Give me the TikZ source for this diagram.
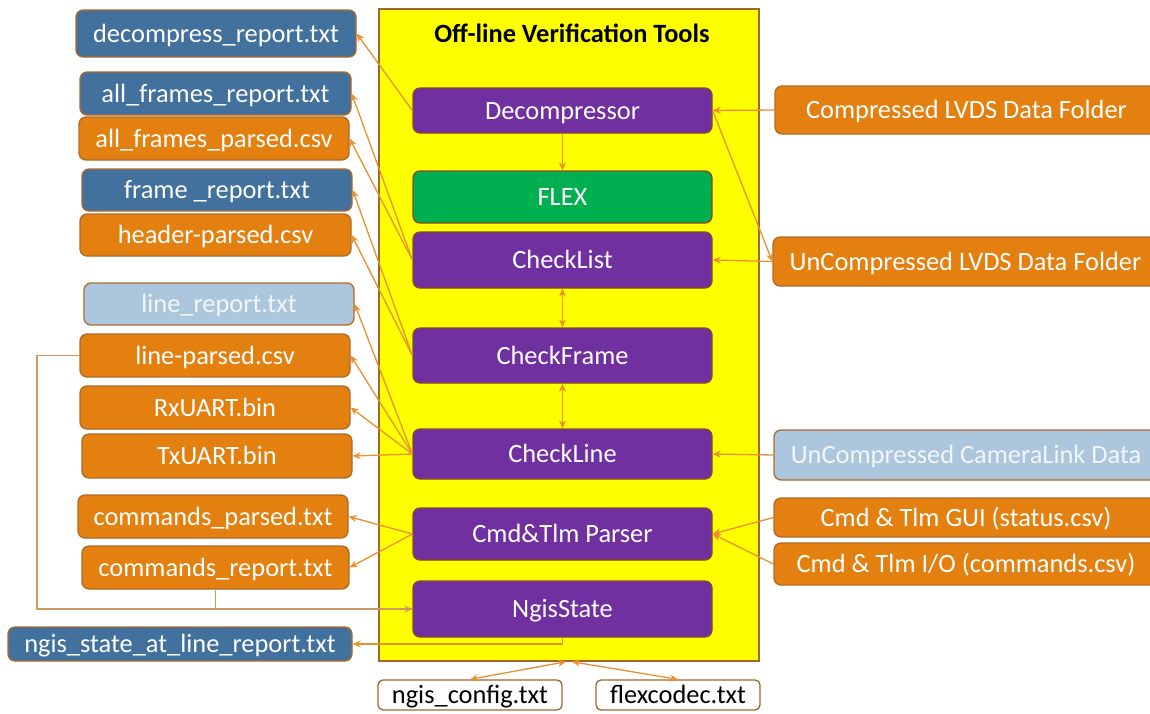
\documentclass[tikz,border=0pt]{standalone}
\usepackage{fontspec}
\setmainfont{Carlito}
\usetikzlibrary{arrows.meta}
\definecolor{orangef}{HTML}{E3800F}
\definecolor{bluef}{HTML}{41719C}
\definecolor{lightf}{HTML}{ABC6DD}
\definecolor{purplef}{HTML}{7030A0}
\definecolor{greenf}{HTML}{00B050}
\definecolor{bordc}{HTML}{B06A28}
\definecolor{pbordc}{HTML}{8A4A2A}
\definecolor{framec}{HTML}{A0662E}
\definecolor{arrc}{HTML}{E8912E}
\definecolor{tanc}{HTML}{CF9A62}
\definecolor{lighttext}{HTML}{F2F6FA}
\definecolor{yellowf}{HTML}{FFFF00}
\begin{document}
\begin{tikzpicture}[x=1pt,y=-1pt,
  box/.style={rounded corners=7pt, draw=bordc, line width=1.3pt, text=white, inner sep=0pt,
    font=\fontsize{26.4}{30}\selectfont, text height=22pt, text depth=5pt},
  sz/.style 2 args={minimum width=#1pt, minimum height=#2pt},
  obox/.style={box, fill=orangef},
  bbox/.style={box, fill=bluef},
  lbox/.style={box, fill=lightf, text=lighttext},
  pbox/.style={box, fill=purplef, draw=pbordc},
  gbox/.style={box, fill=greenf, draw=pbordc},
  fbox/.style={box, fill=white, text=black, draw=framec, rounded corners=5pt},
  arr/.style={draw=arrc, line width=1.3pt, -{Stealth[length=8pt,width=7pt]}},
  darr/.style={draw=arrc, line width=1.3pt, {Stealth[length=8pt,width=7pt]}-{Stealth[length=8pt,width=7pt]}},
  tarr/.style={draw=tanc, line width=1.3pt, -{Stealth[length=8pt,width=7pt]}},
  tline/.style={draw=tanc, line width=1.3pt}]
\useasboundingbox (0,0) rectangle (1150,713);
\fill[white] (0,0) rectangle (1150,713);

% main frame
\node[draw=framec, fill=yellowf, line width=1.5pt, minimum width=380pt, minimum height=652pt, inner sep=0pt] (tools) at (569,335) {};
\node[font=\bfseries\fontsize{26.4}{30}\selectfont] (title) at (572,33) {Off-line Verification Tools};

% tools
\node[pbox, sz={299}{45}] (dec) at (562.5,110.5) {Decompressor};
\node[gbox, sz={299}{52}] (flex) at (562.5,197) {FLEX};
\node[pbox, sz={299}{56}] (clist) at (562.5,260) {CheckList};
\node[pbox, sz={299}{55}] (cframe) at (562.5,355.5) {CheckFrame};
\node[pbox, sz={299}{50}] (cline) at (562.5,454) {CheckLine};
\node[pbox, sz={299}{52}] (cmd) at (562.5,534) {Cmd\&Tlm Parser};
\node[pbox, sz={299}{56}] (ngis) at (562.5,609) {NgisState};

% left outputs
\node[bbox, sz={280}{47}] (drep) at (216,33.5) {decompress\_report.txt};
\node[bbox, sz={271}{43}] (afrep) at (215.5,93.5) {all\_frames\_report.txt};
\node[obox, sz={270}{43}] (afpar) at (214,138.5) {all\_frames\_parsed.csv};
\node[bbox, sz={270}{42}] (frep) at (217,190) {frame \_report.txt};
\node[obox, sz={271}{42}] (hpar) at (215.5,235) {header-parsed.csv};
\node[lbox, sz={270}{42}] (lrep) at (219,304) {line\_report.txt};
\node[obox, sz={270}{43}] (lpar) at (215,355.5) {line-parsed.csv};
\node[obox, sz={270}{43}] (rx) at (215,407.5) {RxUART.bin};
\node[obox, sz={270}{44}] (tx) at (217,456) {TxUART.bin};
\node[obox, sz={270}{43}] (cpar) at (213,516.5) {commands\_parsed.txt};
\node[obox, sz={267}{43}] (crep) at (215.5,567.5) {commands\_report.txt};
\node[bbox, sz={344}{34}] (nsrep) at (180,644) {ngis\_state\_at\_line\_report.txt};

% bottom files
\node[fbox, sz={184}{30}] (ncfg) at (470,695) {ngis\_config.txt};
\node[fbox, sz={164}{30}] (fcodec) at (678,695) {flexcodec.txt};

% right inputs (cut at the page edge)
\node[obox, sz={383}{48}] (cl) at (966.5,110) {Compressed LVDS Data Folder};
\node[obox, sz={385}{49}] (ucl) at (965.5,261.5) {UnCompressed LVDS Data Folder};
\node[lbox, sz={384}{50}] (ucam) at (966,455) {UnCompressed CameraLink Data};
\node[obox, sz={384}{39}] (gui) at (966,517.5) {Cmd \& Tlm GUI (status.csv)};
\node[obox, sz={384}{42}] (io) at (966,564) {Cmd \& Tlm I/O (commands.csv)};

% connectors
\draw[arr] (dec.west) -- (drep.east);
\draw[arr] (cl.west) -- (dec.east);
\draw[arr] (dec.east) -- (ucl.west);
\draw[arr] (ucl.west) -- (clist.east);
\draw[arr] (dec.south) -- (flex.north);
\draw[darr] (clist.south) -- (cframe.north);
\draw[darr] (cframe.south) -- (cline.north);
\draw[arr] (clist.west) -- (afrep.east);
\draw[arr] (clist.west) -- (afpar.east);
\draw[arr] (cframe.west) -- (frep.east);
\draw[arr] (cframe.west) -- (hpar.east);
\draw[arr] (cline.west) -- (lrep.east);
\draw[arr] (cline.west) -- (lpar.east);
\draw[arr] (cline.west) -- (rx.east);
\draw[arr] (cline.west) -- (tx.east);
\draw[arr] (ucam.west) -- (cline.east);
\draw[arr] (cmd.west) -- (cpar.east);
\draw[arr] (cmd.west) -- (crep.east);
\draw[arr] (gui.west) -- (cmd.east);
\draw[arr] (io.west) -- (cmd.east);
\coordinate (lbend) at (37,609);
\draw[tarr] (lpar.west) -| (lbend) -- (ngis.west);
\draw[tline] (crep.south) |- (ngis.west);
\draw[arr] (ngis.south) |- (nsrep.east);
\draw[darr] ([xshift=-3pt]tools.south) -- (ncfg.north);
\draw[darr] ([xshift=3pt]tools.south) -- (fcodec.north);
\end{tikzpicture}
\end{document}
